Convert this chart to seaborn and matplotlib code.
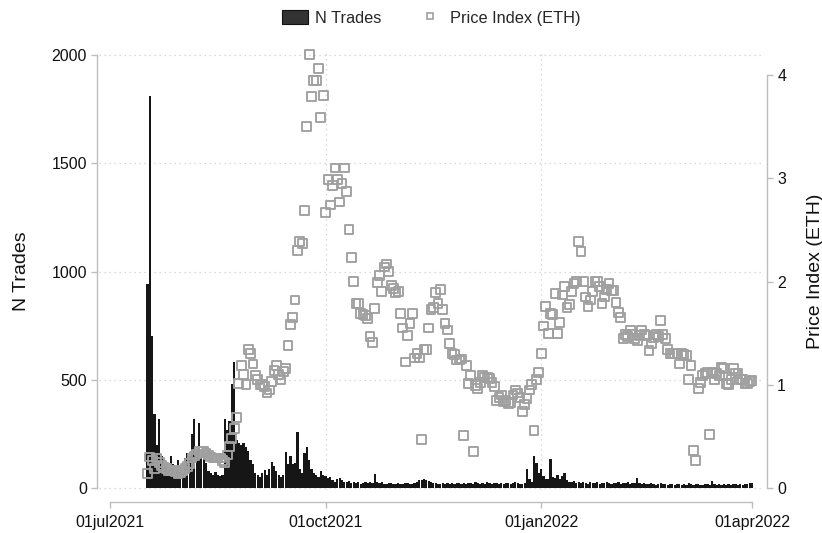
import numpy as np
import pandas as pd
import matplotlib
matplotlib.use("Agg")
import matplotlib.pyplot as plt
import matplotlib.dates as mdates
from matplotlib.lines import Line2D
from matplotlib.patches import Patch
import seaborn as sns

# Daily observations, 17 Jul 2021 through 01 Apr 2022
start_date = "2021-07-17"
end_date = "2022-04-01"

n_trades = [
    940, 1810, 700, 340, 200, 320, 150, 120, 110, 90, 150, 110, 80, 130, 75,   # Jul 17-31
    70, 140, 160, 150, 250, 320, 175, 300, 150, 150, 114, 80, 70, 60, 75, 60,  # Aug 1-16
    55, 60, 320, 268, 310, 480, 580, 220, 210, 200, 206, 190, 170, 130, 110,   # Aug 17-31
    70, 60, 50, 70, 85, 60, 90, 120, 100, 80, 60, 50, 60, 168, 110,            # Sep 1-15
    150, 110, 115, 260, 90, 70, 160, 190, 130, 90, 70, 60, 50, 80, 60,         # Sep 16-30
    55, 45, 50, 35, 30, 40, 45, 38, 30, 28, 32, 25, 30, 22, 26, 20, 24,        # Oct 1-17
    28, 22, 30, 25, 65, 30, 22, 26, 20, 18, 22, 25, 20, 18,                    # Oct 18-31
    22, 20, 18, 25, 22, 20, 18, 24, 30, 35, 38, 40, 35, 32, 28, 25,            # Nov 1-16
    22, 20, 18, 22, 20, 25, 18, 22, 20, 24, 22, 18, 25, 20,                    # Nov 17-30
    22, 25, 20, 28, 22, 18, 24, 20, 26, 22, 20, 25, 22, 18, 24, 20,            # Dec 1-16
    22, 25, 20, 24, 28, 22, 20, 18, 25, 86, 40, 30, 150, 117, 70,              # Dec 17-31
    86, 55, 40, 40, 132, 50, 45, 62, 40, 55, 68, 35, 30, 28, 32,               # Jan 1-15
    25, 30, 22, 28, 25, 20, 30, 25, 22, 28, 20, 25, 22, 30, 24, 20,            # Jan 16-31
    25, 22, 28, 20, 24, 22, 26, 20, 25, 22, 48, 25, 20, 22,                    # Feb 1-14
    18, 20, 22, 18, 16, 20, 22, 18, 20, 15, 18, 20, 16, 18,                    # Feb 15-28
    20, 16, 18, 15, 22, 18, 16, 20, 18, 15, 16, 18, 20, 16, 32, 18,            # Mar 1-16
    15, 18, 16, 20, 15, 18, 16, 20, 18, 16, 18, 15, 18, 20, 22,                # Mar 17-31
    22,                                                                        # Apr 1
]

price_index = [
    0.14, 0.30, 0.27, 0.19, 0.29, 0.25, 0.22, 0.20, 0.19, 0.17, 0.17, 0.17, 0.16, 0.14, 0.15,
    0.17, 0.19, 0.21, 0.24, 0.29, 0.31, 0.33, 0.35, 0.35, 0.35, 0.34, 0.32, 0.30, 0.29, 0.29, 0.29,
    0.29, 0.27, 0.25, 0.32, 0.40, 0.48, 0.58, 0.68, 1.01, 1.19, 1.10, 1.00, 1.34, 1.30, 1.20,
    1.09, 1.05, 1.00, 1.00, 0.98, 0.92, 0.95, 1.03, 1.14, 1.19, 1.10, 1.05, 1.13, 1.16, 1.38,
    1.58, 1.65, 1.82, 2.30, 2.39, 2.37, 2.69, 3.50, 4.20, 3.79, 3.95, 3.95, 4.06, 3.59, 3.80,
    2.67, 2.99, 2.74, 2.93, 3.10, 2.99, 2.77, 2.95, 3.10, 2.87, 2.50, 2.23, 2.00, 1.79, 1.79, 1.69, 1.68,
    1.67, 1.64, 1.47, 1.41, 1.74, 1.99, 2.06, 1.90, 2.14, 2.17, 2.10, 1.96, 1.93, 1.89,
    1.90, 1.69, 1.55, 1.22, 1.48, 1.59, 1.69, 1.26, 1.30, 1.26, 0.47, 1.34, 1.34, 1.55, 1.73, 1.75,
    1.89, 1.79, 1.92, 1.73, 1.59, 1.53, 1.40, 1.30, 1.29, 1.24, 1.24, 1.25, 0.51, 1.19,
    1.01, 1.09, 0.35, 0.99, 0.96, 1.02, 1.09, 1.07, 1.07, 1.06, 1.02, 0.98, 0.85, 0.88, 0.90, 0.84,
    0.85, 0.82, 0.83, 0.90, 0.95, 0.92, 0.88, 0.74, 0.81, 0.87, 0.95, 1.00, 0.56, 1.05, 1.12,
    1.30, 1.57, 1.76, 1.50, 1.69, 1.68, 1.88, 1.50, 1.60, 1.87, 1.95, 1.75, 1.78, 1.90, 1.98,
    2.00, 2.39, 2.29, 2.00, 1.85, 1.76, 1.82, 1.90, 2.00, 2.00, 1.95, 1.79, 1.85, 1.92, 1.98, 1.91,
    1.91, 1.80, 1.70, 1.65, 1.45, 1.49, 1.47, 1.53, 1.49, 1.45, 1.43, 1.48, 1.53, 1.49,
    1.48, 1.33, 1.40, 1.46, 1.49, 1.47, 1.62, 1.49, 1.45, 1.34, 1.30, 1.30, 1.30, 1.30,
    1.20, 1.30, 1.29, 1.28, 1.05, 1.19, 0.36, 0.27, 0.96, 1.02, 1.09, 1.11, 1.12, 0.52, 1.12, 1.05,
    1.11, 1.09, 1.17, 1.16, 1.01, 1.00, 1.05, 1.16, 1.11, 1.11, 1.05, 1.05, 1.01, 1.01, 1.03,
    1.04,
]

left_ticks = [0, 500, 1000, 1500, 2000]
right_ticks = [0, 1, 2, 3, 4]
date_ticks = ["2021-07-01", "2021-10-01", "2022-01-01", "2022-04-01"]
date_tick_labels = ["01jul2021", "01oct2021", "01jan2022", "01apr2022"]
grid_dates = ["2021-10-01", "2022-01-01"]

dates = pd.date_range(start_date, end_date, freq="D")
df = pd.DataFrame({"date": dates, "trades": n_trades, "price": price_index})
df["x"] = mdates.date2num(df["date"])

sns.set_theme(style="white")
plt.rcParams["font.family"] = ["Liberation Sans", "DejaVu Sans"]

W, H = 822, 533
PT = 0.72  # points per pixel at 100 dpi
fig = plt.figure(figsize=(W / 100, H / 100), dpi=100)

# plot region in pixels
px_left, px_right, px_top, px_bottom = 99, 764, 50, 490
ax = fig.add_axes([px_left / W, 1 - px_bottom / H,
                   (px_right - px_left) / W, (px_bottom - px_top) / H])

axis_grey = "#bdbdbd"
text_col = "#111111"

# y scales: zero sits 2 px above the bottom of the region
left_ppu = (488 - 55) / 2000.0
right_ppu = (488 - 75) / 4.0
ax.set_ylim(-2 / left_ppu, (488 - px_top) / left_ppu)

t0 = mdates.date2num(pd.Timestamp(date_ticks[0]))
t1 = mdates.date2num(pd.Timestamp(date_ticks[-1]))
ppd = (752 - 110) / (t1 - t0)
ax.set_xlim(t0 - (110 - px_left) / ppd, t1 + (px_right - 752) / ppd)

# gridlines
for g in left_ticks:
    ax.axhline(g, color="#cfcfcf", lw=0.9, ls=(0, (1, 3)), zorder=0)
for gd in grid_dates:
    ax.axvline(mdates.date2num(pd.Timestamp(gd)), color="#cfcfcf", lw=0.9,
               ls=(0, (1, 3)), zorder=0)

ax.bar(df["x"], df["trades"], width=0.95, color="#161616", edgecolor="none",
       zorder=2)

ax2 = ax.twinx()
ax2.set_ylim(-2 / right_ppu, (488 - px_top) / right_ppu)
sns.scatterplot(data=df, x="x", y="price", ax=ax2, marker="s", s=40,
                facecolor="none", edgecolor="#a0a0a0", linewidth=1.35,
                zorder=3, clip_on=False, legend=False)
ax2.set_xlim(ax.get_xlim())

# spines
for a in (ax, ax2):
    a.spines["top"].set_visible(False)
ax.spines["right"].set_visible(False)
ax2.spines["left"].set_visible(False)
ax2.spines["bottom"].set_visible(False)

ax.spines["left"].set_bounds(0, 2000)
ax.spines["left"].set_position(("outward", 2 * PT))
ax.spines["left"].set_color(axis_grey)
ax.spines["left"].set_linewidth(1.0)

ax2.spines["right"].set_bounds(0, 4)
ax2.spines["right"].set_position(("outward", 3 * PT))
ax2.spines["right"].set_color(axis_grey)
ax2.spines["right"].set_linewidth(1.0)

ax.spines["bottom"].set_bounds(t0, t1)
ax.spines["bottom"].set_position(("outward", 12 * PT))
ax.spines["bottom"].set_color(axis_grey)
ax.spines["bottom"].set_linewidth(1.0)

ax.set_yticks(left_ticks)
ax.set_yticklabels([str(v) for v in left_ticks])
ax2.set_yticks(right_ticks)
ax2.set_yticklabels([str(v) for v in right_ticks])
ax.set_xticks([mdates.date2num(pd.Timestamp(d)) for d in date_ticks])
ax.set_xticklabels(date_tick_labels)

ax.tick_params(axis="y", left=True, length=6 * PT, width=1.0, color=axis_grey,
               labelsize=11.5, labelcolor=text_col, pad=3)
ax.tick_params(axis="x", bottom=True, length=6 * PT, width=1.0, color=axis_grey,
               labelsize=11.5, labelcolor=text_col, pad=5)
ax2.tick_params(axis="y", right=True, length=6 * PT, width=1.0, color=axis_grey,
                labelsize=11.5, labelcolor=text_col, pad=3)

ax.set_xlabel("")
ax2.set_xlabel("")
ax.set_ylabel("")
ax2.set_ylabel("")
fig.text(21 / W, 1 - 271 / H, "N Trades", rotation=90, ha="center", va="center",
         fontsize=14, color=text_col)
fig.text(815 / W, 1 - 271 / H, "Price Index (ETH)", rotation=90, ha="center",
         va="center", fontsize=14, color=text_col)

handles = [
    Patch(facecolor="#333333", edgecolor="#111111", linewidth=0.8),
    Line2D([], [], marker="s", linestyle="none", markersize=5,
           markerfacecolor="none", markeredgecolor="#a0a0a0", markeredgewidth=1.2),
]
fig.legend(handles, ["N Trades", "Price Index (ETH)"], loc="center",
           bbox_to_anchor=(431 / W, 1 - 18 / H), ncol=2, frameon=False,
           fontsize=11.8, handlelength=1.6, handleheight=0.9, columnspacing=2.2,
           handletextpad=0.4)

fig.savefig("out.png", dpi=100, facecolor="white")
